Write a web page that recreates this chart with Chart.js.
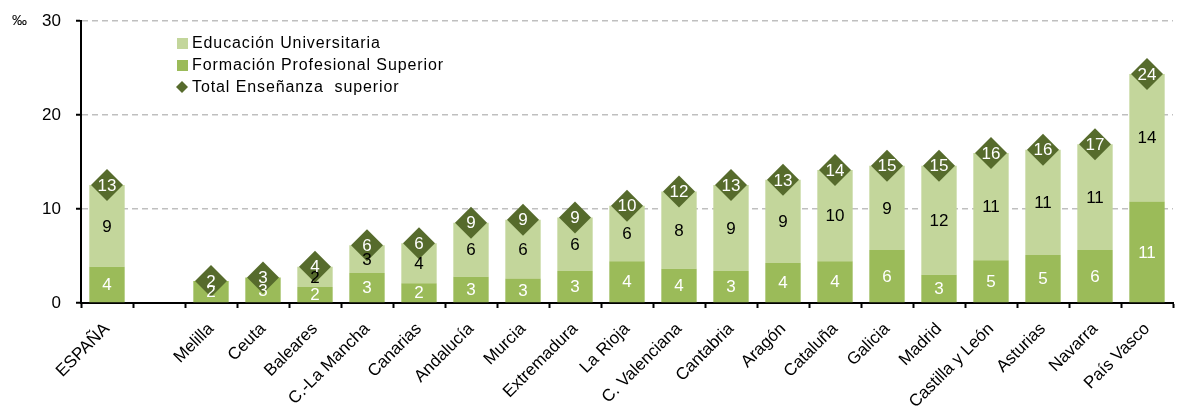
<!DOCTYPE html>
<html>
<head>
<meta charset="utf-8">
<script src="https://cdn.jsdelivr.net/npm/chart.js@4/dist/chart.umd.min.js"></script>
<style>
html, body { margin: 0; padding: 0; overflow: hidden; background: #fff; }
#wrap { position: relative; width: 1189px; height: 406px; }
</style>
</head>
<body>
<div id="wrap"><canvas id="chart"></canvas></div>
<script>
// datos (por mil)
const regiones = ['ESPAÑA', '', 'Melilla', 'Ceuta', 'Baleares', 'C.-La Mancha', 'Canarias', 'Andalucía',
  'Murcia', 'Extremadura', 'La Rioja', 'C. Valenciana', 'Cantabria', 'Aragón', 'Cataluña', 'Galicia',
  'Madrid', 'Castilla y León', 'Asturias', 'Navarra', 'País Vasco'];
const formacionProfesional = [3.85, null, 2.35, 2.7, 1.7, 3.2, 2.1, 2.8, 2.6, 3.4, 4.45, 3.65, 3.4, 4.25,
  4.45, 5.65, 3.0, 4.55, 5.1, 5.65, 10.8];
const educacionUniversitaria = [8.7, null, 0, 0, 2.15, 2.95, 4.25, 5.75, 6.25, 5.7, 5.9, 8.2, 9.15, 8.85,
  9.7, 8.95, 11.6, 11.4, 11.2, 11.25, 13.55];
const totalSuperior = [12.55, null, 2.35, 2.7, 3.85, 6.15, 6.35, 8.55, 8.85, 9.1, 10.35, 11.85, 12.55, 13.1,
  14.15, 14.6, 14.6, 15.95, 16.3, 16.9, 24.35];

const FUENTE = '"Liberation Sans", Arial, sans-serif';
const verdeFP = '#9BBB59';
const verdeUni = '#C3D69B';
const verdeTotal = '#566B2C';

const etiquetas = {
  id: 'etiquetas',
  afterDatasetsDraw(chart) {
    const ctx = chart.ctx;
    ctx.save();
    ctx.font = '17px ' + FUENTE;
    ctx.textAlign = 'center';
    ctx.textBaseline = 'middle';
    chart.data.datasets.forEach((ds, i) => {
      const meta = chart.getDatasetMeta(i);
      meta.data.forEach((el, j) => {
        const v = ds.data[j];
        if (v == null || v === 0) return;
        const y = ds.type === 'line' ? el.y : (el.y + el.base) / 2;
        ctx.fillStyle = ds.colorEtiqueta;
        ctx.fillText(String(Math.round(v)), el.x, y + 1);
      });
    });
    ctx.restore();
  }
};

const leyenda = {
  id: 'leyenda',
  afterDraw(chart) {
    const ctx = chart.ctx;
    const ds = chart.data.datasets;
    ctx.save();
    ctx.textBaseline = 'middle';
    ctx.fillStyle = '#000';
    ctx.font = '15px ' + FUENTE;
    ctx.fillText('‰', 12, chart.scales.y.getPixelForValue(30));

    ctx.font = '16px ' + FUENTE;
    ctx.letterSpacing = '0.9px';
    const filas = [[1, 43], [0, 65], [2, 87]];
    filas.forEach(([k, y]) => {
      const d = ds[k];
      ctx.fillStyle = d.backgroundColor;
      if (d.type === 'line') {
        ctx.beginPath();
        ctx.moveTo(182, y - 6);
        ctx.lineTo(188, y);
        ctx.lineTo(182, y + 6);
        ctx.lineTo(176, y);
        ctx.closePath();
        ctx.fill();
      } else {
        ctx.fillRect(177, y - 5, 11, 11);
      }
      ctx.fillStyle = '#000';
      ctx.fillText(d.label, 192, y + 1);
    });
    ctx.restore();
  }
};

new Chart(document.getElementById('chart'), {
  data: {
    labels: regiones,
    datasets: [
      {
        type: 'bar',
        label: 'Formación Profesional Superior',
        data: formacionProfesional,
        backgroundColor: verdeFP,
        colorEtiqueta: '#fff',
        stack: 'barras',
        order: 2,
        barPercentage: 0.68,
        categoryPercentage: 1
      },
      {
        type: 'bar',
        label: 'Educación Universitaria',
        data: educacionUniversitaria,
        backgroundColor: verdeUni,
        colorEtiqueta: '#000',
        stack: 'barras',
        order: 2,
        barPercentage: 0.68,
        categoryPercentage: 1
      },
      {
        type: 'line',
        label: 'Total Enseñanza  superior',
        data: totalSuperior,
        backgroundColor: verdeTotal,
        borderColor: verdeTotal,
        colorEtiqueta: '#fff',
        showLine: false,
        pointStyle: 'rectRot',
        pointRadius: 16,
        pointHoverRadius: 16,
        pointBorderWidth: 0,
        stack: 'total',
        order: 0
      }
    ]
  },
  options: {
    responsive: true,
    maintainAspectRatio: false,
    animation: false,
    events: [],
    layout: { padding: { top: 21, right: 0, left: 0, bottom: 0 } },
    plugins: {
      legend: { display: false },
      tooltip: { enabled: false }
    },
    scales: {
      x: {
        stacked: true,
        afterFit: (s) => { s.height = 103; },
        grid: { drawOnChartArea: false, drawTicks: true, tickLength: 5, tickColor: '#000', tickWidth: 2 },
        border: { color: '#000', width: 2 },
        ticks: {
          color: '#000',
          font: { family: FUENTE, size: 17 },
          maxRotation: 45,
          minRotation: 45,
          autoSkip: false,
          padding: 11
        }
      },
      y: {
        stacked: true,
        min: 0,
        max: 30,
        afterFit: (s) => { s.width = 81; s.paddingTop = 0; s.paddingBottom = 0; },
        grid: {
          color: (c) => c.tick && c.tick.value === 0 ? 'rgba(0,0,0,0)' : '#BFBFBF',
          lineWidth: 1.5,
          tickLength: 5,
          tickColor: '#000',
          tickWidth: 2
        },
        border: { color: '#000', width: 2, dash: [6, 4] },
        ticks: {
          stepSize: 10,
          color: '#000',
          font: { family: FUENTE, size: 17 },
          padding: 15
        }
      }
    }
  },
  plugins: [etiquetas, leyenda]
});
</script>
</body>
</html>
